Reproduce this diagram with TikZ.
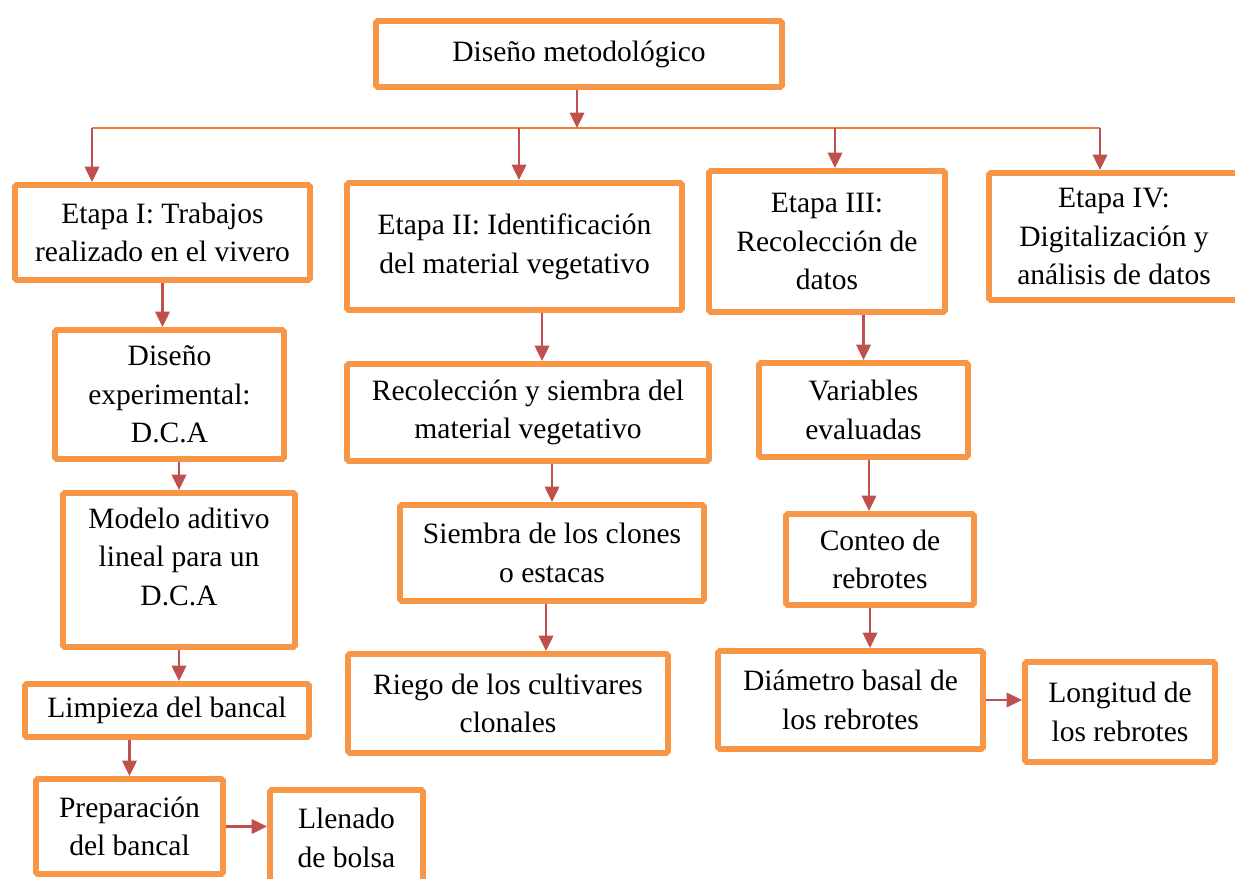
\documentclass[tikz,border=0pt]{standalone}
\usepackage{fontspec}
\setmainfont{Liberation Serif}
\usetikzlibrary{arrows.meta}
\definecolor{boxCol}{RGB}{247,150,70}
\definecolor{arrowCol}{RGB}{192,80,77}
\definecolor{barCol}{RGB}{237,125,49}
\tikzset{myBox/.style={draw=boxCol, line width=3.4pt, rounded corners=1pt, fill=white, align=center, inner sep=0pt, font=\fontsize{16.8}{22}\selectfont}}
\tikzset{mySize/.style 2 args={minimum width=#1*0.02cm, minimum height=#2*0.02cm}}
\tikzset{myArrow/.style={color=arrowCol, line width=1.4pt, -{Triangle[length=0.31cm,width=0.29cm]}}}
\tikzset{myBar/.style={color=barCol, line width=1.1pt}}
\begin{document}
\begin{tikzpicture}[x=0.02cm, y=-0.02cm]
	\clip (0,0) rectangle (1235,879);

	% top
	\node[myBox, mySize={406}{66}] (disMet) at (579,54) {Diseño metodológico};

	% etapas
	\node[myBox, mySize={295}{95}] (etapaI) at (162.5,232.5) {Etapa I: Trabajos\\realizado en el vivero};
	\node[myBox, mySize={335}{127}] (etapaII) at (514.5,246.5) {Etapa II: Identificación\\del material vegetativo};
	\node[myBox, mySize={236}{141}] (etapaIII) at (827,241.5) {Etapa III:\\Recolección de\\datos};
	\node[myBox, mySize={250}{127}] (etapaIV) at (1114,236.5) {Etapa IV:\\Digitalización y\\análisis de datos};

	% column I
	\node[myBox, mySize={229}{129}] (disExp) at (169.5,394.5) {Diseño\\experimental:\\D.C.A};
	\node[myBox, mySize={232}{154}] (modelo) at (179,570) {Modelo aditivo\\lineal para un\\D.C.A\rule[-0.54cm]{0pt}{0.54cm}};
	\node[myBox, mySize={284}{53}] (limpieza) at (167,710.5) {Limpieza del bancal};
	\node[myBox, mySize={187}{95}] (prepar) at (129.5,826.5) {Preparación\\del bancal};
	\node[myBox, mySize={153}{96}] (llenado) at (346.5,838) {Llenado\\de bolsa};

	% column II
	\node[myBox, mySize={362}{97}] (recolec) at (528,412.5) {Recolección y siembra del\\material vegetativo};
	\node[myBox, mySize={304}{96}] (siembra) at (552,553) {Siembra de los clones\\o estacas};
	\node[myBox, mySize={320}{99}] (riego) at (508,703.5) {Riego de los cultivares\\clonales};

	% column III
	\node[myBox, mySize={209}{94}] (variab) at (863.5,410) {Variables\\evaluadas};
	\node[myBox, mySize={188}{91}] (conteo) at (880,559.5) {Conteo de\\rebrotes};
	\node[myBox, mySize={265}{98}] (diamet) at (850.5,700) {Diámetro basal de\\los rebrotes};
	\node[myBox, mySize={190}{100}] (longit) at (1120,712) {Longitud de\\los rebrotes};

	% bar
	\coordinate (b1) at (92,128);
	\coordinate (b2) at (519,128);
	\coordinate (b3) at (835,128);
	\coordinate (b4) at (1100,128);
	\coordinate (bTop) at (577,128);
	\draw[myBar] (b1)--(b4);
	\draw[myArrow] (disMet.south -| bTop)--(bTop);
	\foreach \b/\n in {b1/etapaI, b2/etapaII, b3/etapaIII, b4/etapaIV}{
		\draw[myArrow] (\b)--(\b |- \n.north);
	}

	\draw[myArrow] (etapaI.south)--(etapaI.south |- disExp.north);
	\draw[myArrow] (modelo.north |- disExp.south)--(modelo.north);
	\draw[myArrow] (modelo.south)--(modelo.south |- limpieza.north);
	\draw[myArrow] (prepar.north |- limpieza.south)--(prepar.north);
	\draw[myArrow] (prepar.east)--(prepar.east -| llenado.west);

	\draw[myArrow] (etapaII.south -| 542,0)--(recolec.north -| 542,0);
	\draw[myArrow] (siembra.north |- recolec.south)--(siembra.north);
	\draw[myArrow] (siembra.south -| 546,0)--(riego.north -| 546,0);

	\draw[myArrow] (variab.north |- etapaIII.south)--(variab.north);
	\draw[myArrow] (variab.south -| 869,0)--(conteo.north -| 869,0);
	\draw[myArrow] (conteo.south -| 870,0)--(diamet.north -| 870,0);
	\draw[myArrow] (diamet.east)--(diamet.east -| longit.west);
\end{tikzpicture}
\end{document}
